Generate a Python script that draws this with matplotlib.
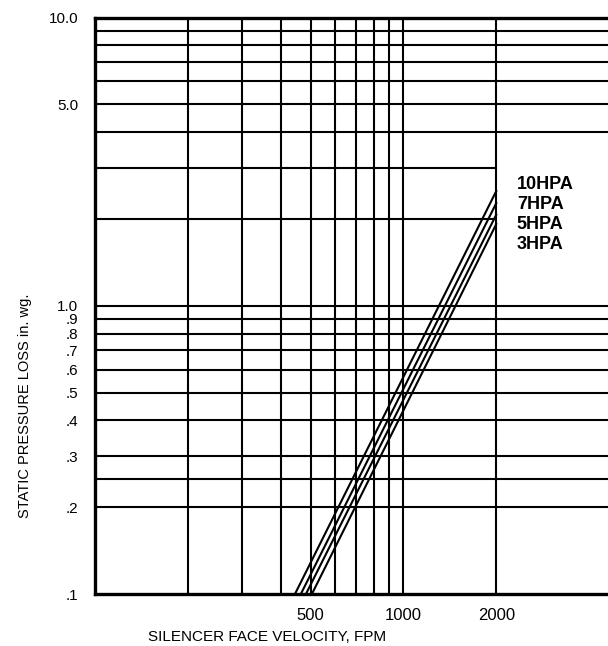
import numpy as np
import matplotlib
matplotlib.use('Agg')
import matplotlib.pyplot as plt

plt.rcParams['font.family'] = ['Liberation Sans', 'DejaVu Sans']

# silencer models, pressure line end points
models = ['10HPA', '7HPA', '5HPA', '3HPA']
velocity_at_min = [445, 465, 483, 505]      # FPM where each line leaves 0.1 in. wg.
pressure_at_2000 = [2.5, 2.27, 2.07, 1.92]  # in. wg. at 2000 FPM

# grid
x_grid = [200, 300, 400, 500, 600, 700, 800, 900, 1000, 2000]
y_grid_full = [9, 8, 7, 6, 5, 4, 1, 0.9, 0.8, 0.7, 0.6, 0.5, 0.4, 0.3, 0.25, 0.2]
y_grid_short = [3, 2]

x_ticks = [500, 1000, 2000]
x_tick_labels = ['500', '1000', '2000']
y_ticks = [10, 5, 1, 0.9, 0.8, 0.7, 0.6, 0.5, 0.4, 0.3, 0.2, 0.1]
y_tick_labels = ['10.0', '5.0', '1.0', '.9', '.8', '.7', '.6', '.5', '.4', '.3', '.2', '.1']

x_min, x_max = 100, 5000
y_min, y_max = 0.1, 10

fig = plt.figure(figsize=(6.08, 6.46), dpi=100)
ax = fig.add_axes([95 / 608, 52 / 646, 524 / 608, 576.5 / 646])
ax.set_xscale('log')
ax.set_yscale('log')
ax.set_xlim(x_min, x_max)
ax.set_ylim(y_min, y_max)

for xv in x_grid:
    ax.axvline(xv, color='black', lw=1.5, zorder=1)
ax.hlines(y_grid_full, x_min, x_max, color='black', lw=1.5, zorder=1)
ax.hlines(y_grid_short, x_min, 2000, color='black', lw=1.5, zorder=1)

for v0, p1 in zip(velocity_at_min, pressure_at_2000):
    ax.plot([v0, 2000], [y_min, p1], color='black', lw=1.5, zorder=2)

for i, name in enumerate(models):
    ax.text(0.805, 0.71 - i * 0.0345, name, transform=ax.transAxes,
            fontsize=13, fontweight='bold', ha='left', va='center')

ax.xaxis.set_minor_locator(matplotlib.ticker.NullLocator())
ax.yaxis.set_minor_locator(matplotlib.ticker.NullLocator())
ax.set_xticks(x_ticks)
ax.set_xticklabels(x_tick_labels)
ax.set_yticks(y_ticks)
ax.set_yticklabels(y_tick_labels)
ax.tick_params(axis='both', length=0)
ax.tick_params(axis='x', pad=10, labelsize=12)
ax.tick_params(axis='y', pad=12, labelsize=11)

for side in ('left', 'bottom', 'top'):
    ax.spines[side].set_linewidth(2.4)
    ax.spines[side].set_color('black')
ax.spines['right'].set_visible(False)

ax.set_xlabel('SILENCER FACE VELOCITY, FPM', fontsize=11, va='center')
ax.xaxis.set_label_coords((267 - 95) / 524, -(637 - 594) / 576.5)
ax.set_ylabel('STATIC PRESSURE LOSS in. wg.', fontsize=10.5, va='center')
ax.yaxis.set_label_coords((25 - 95) / 524, (594 - 406) / 576.5)

plt.savefig('out.png', dpi=100)
plt.close()
